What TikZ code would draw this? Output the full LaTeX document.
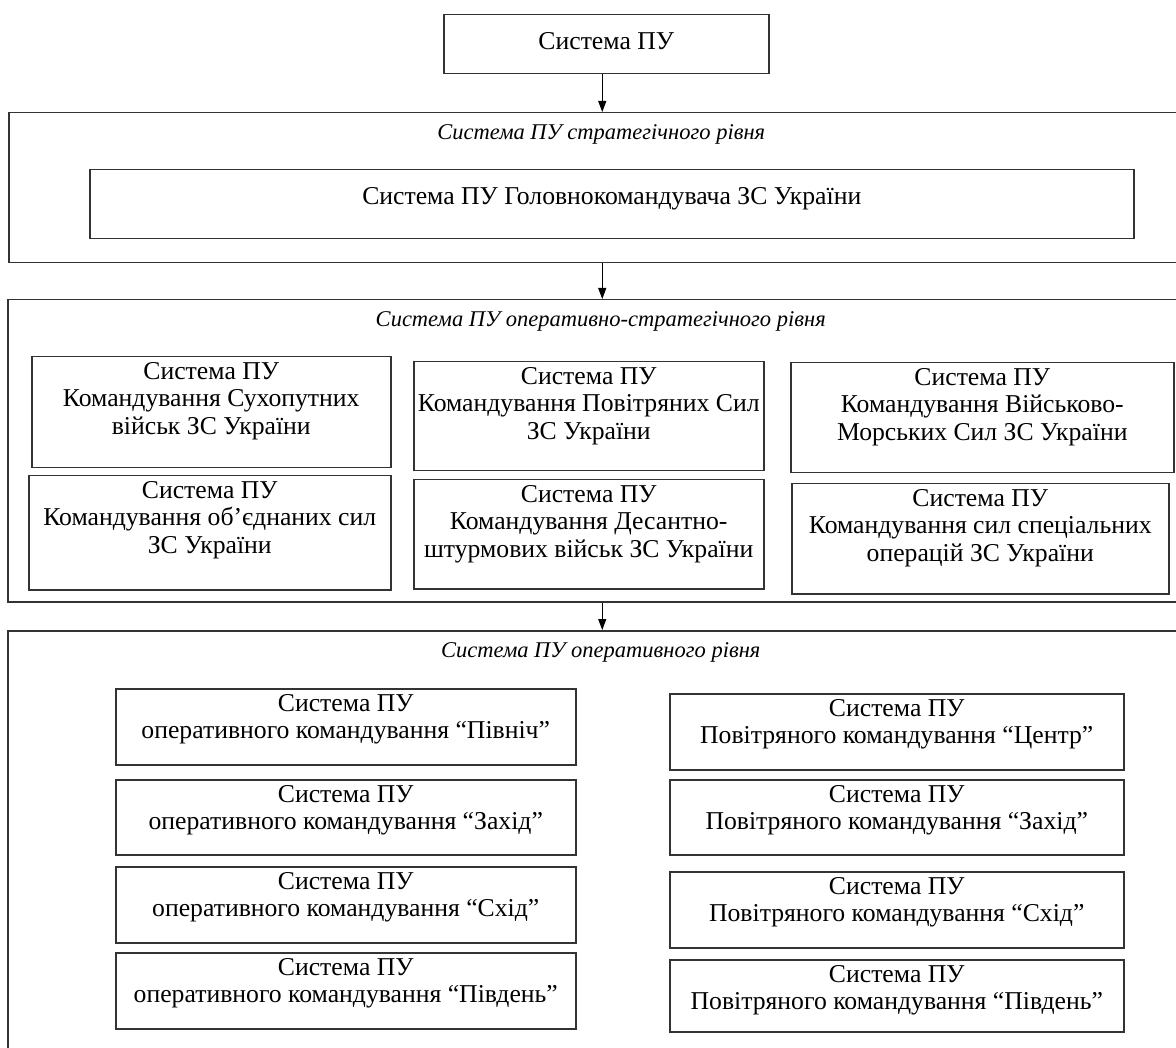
\documentclass[tikz,border=0pt]{standalone}
\usepackage{fontspec}
\setmainfont{Liberation Serif}
\usetikzlibrary{arrows.meta}
\tikzset{sysbox/.style={draw=black!80,line width=1.5pt,anchor=north west,inner sep=0pt},sysname/.style={anchor=north,inner sep=0pt,yshift=-6pt,align=center,font=\fontsize{25.7}{27.5}\selectfont},tier/.style={draw=black!80,line width=1.5pt,anchor=north west,inner sep=0pt},tiername/.style={anchor=north,inner sep=0pt,yshift=-12pt,font=\fontsize{22.5}{26}\selectfont\itshape},flow/.style={draw=black,line width=1.1pt,-{Triangle[length=11pt,width=8pt]}}}
\begin{document}
\begin{tikzpicture}[x=1pt,y=-1pt]
\useasboundingbox (0,0) rectangle (1176,1048);
\clip (0,0) rectangle (1176,1048);
\node[sysbox,minimum width=325,minimum height=59,label={[sysname,yshift=-12pt]north:Система ПУ}] (pu) at (443,14) {};
\node[tier,minimum width=1185,minimum height=150,label={[tiername]north:Система ПУ стратегічного рівня}] (stra) at (8,112) {};
\node[sysbox,minimum width=1044,minimum height=69,label={[sysname,yshift=-12pt]north:Система ПУ Головнокомандувача ЗС України}] (chief) at (89,169) {};
\node[tier,minimum width=1186,minimum height=302,label={[tiername]north:Система ПУ оперативно-стратегічного рівня}] (opst) at (7,299) {};
\node[sysbox,minimum width=359,minimum height=111,label={[sysname]north:Система ПУ\\Командування Сухопутних\\військ ЗС України}] (sv) at (31,356) {};
\node[sysbox,minimum width=350,minimum height=109,label={[sysname]north:Система ПУ\\Командування Повітряних Сил\\ЗС України}] (ps) at (413,361) {};
\node[sysbox,minimum width=383,minimum height=110,label={[sysname]north:Система ПУ\\Командування Військово-\\Морських Сил ЗС України}] (vms) at (790,362) {};
\node[sysbox,minimum width=362,minimum height=114,label={[sysname]north:Система ПУ\\Командування об’єднаних сил\\ЗС України}] (os) at (28,475) {};
\node[sysbox,minimum width=350,minimum height=109,label={[sysname]north:Система ПУ\\Командування Десантно-\\штурмових військ ЗС України}] (dshv) at (413,479) {};
\node[sysbox,minimum width=377,minimum height=110,label={[sysname]north:Система ПУ\\Командування сил спеціальних\\операцій ЗС України}] (sso) at (791,483) {};
\node[tier,minimum width=1186,minimum height=450,label={[tiername]north:Система ПУ оперативного рівня}] (oper) at (7,630) {};
\node[sysbox,minimum width=460,minimum height=76,label={[sysname]north:Система ПУ\\оперативного командування “Північ”}] (okn) at (115,688) {};
\node[sysbox,minimum width=460,minimum height=75,label={[sysname]north:Система ПУ\\оперативного командування “Захід”}] (okz) at (115,779) {};
\node[sysbox,minimum width=460,minimum height=76,label={[sysname]north:Система ПУ\\оперативного командування “Схід”}] (oks) at (115,866) {};
\node[sysbox,minimum width=460,minimum height=76,label={[sysname]north:Система ПУ\\оперативного командування “Південь”}] (okp) at (115,952) {};
\node[sysbox,minimum width=454,minimum height=76,label={[sysname]north:Система ПУ\\Повітряного командування “Центр”}] (pkc) at (669,693) {};
\node[sysbox,minimum width=454,minimum height=75,label={[sysname]north:Система ПУ\\Повітряного командування “Захід”}] (pkz) at (669,779) {};
\node[sysbox,minimum width=454,minimum height=76,label={[sysname]north:Система ПУ\\Повітряного командування “Схід”}] (pks) at (669,871) {};
\node[sysbox,minimum width=454,minimum height=72,label={[sysname]north:Система ПУ\\Повітряного командування “Південь”}] (pkp) at (669,959) {};
\draw[flow] ([xshift=-4pt]pu.south) -- ([xshift=-4pt]pu.south |- stra.north);
\draw[flow] ([xshift=-4pt]pu.south |- stra.south) -- ([xshift=-4pt]pu.south |- opst.north);
\draw[flow] ([xshift=-4pt]pu.south |- opst.south) -- ([xshift=-4pt]pu.south |- oper.north);
\end{tikzpicture}
\end{document}
